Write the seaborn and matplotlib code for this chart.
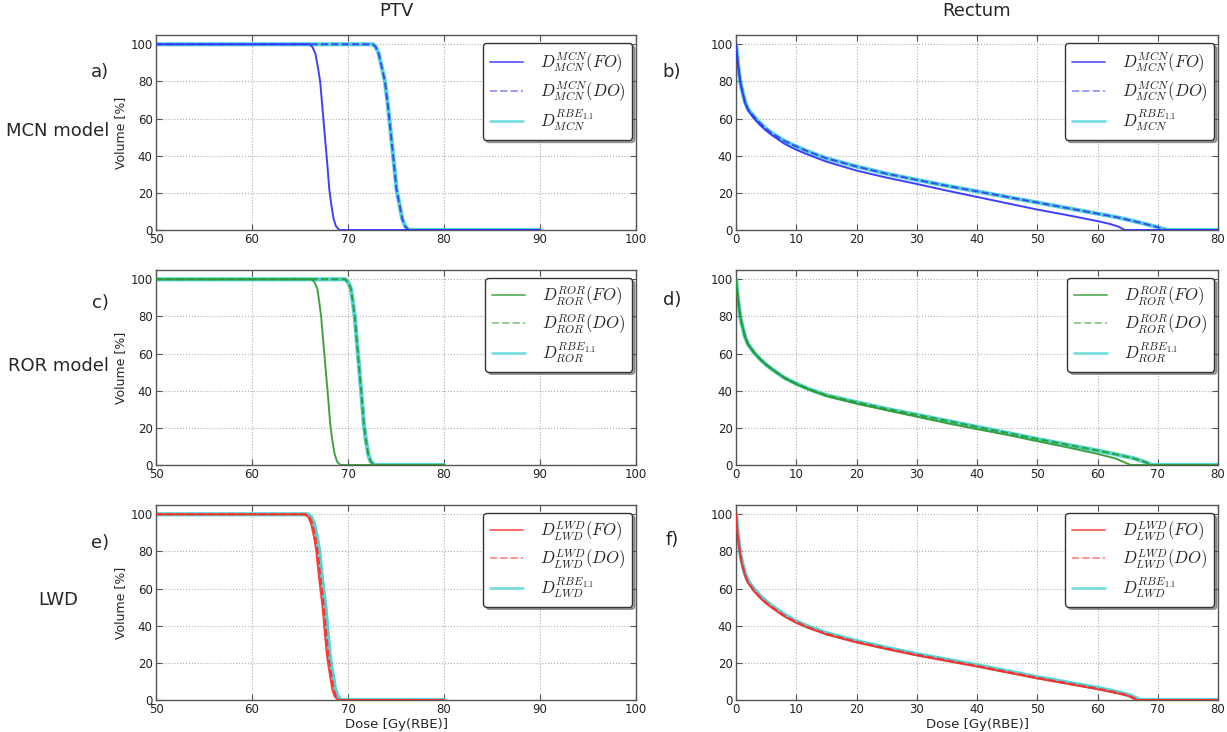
import numpy as np
import pandas as pd
import matplotlib
matplotlib.use("Agg")
import matplotlib.pyplot as plt
import seaborn as sns
from matplotlib.lines import Line2D

# ---------------- data ----------------
ptv_vol = [100, 100, 98.5, 95, 88, 80, 65, 50, 35, 22, 14, 6, 2, 0, 0]

# MCN model, PTV
ptv_mcn_fo_dose = [50, 66.0, 66.3, 66.6, 66.85, 67.1, 67.35, 67.6, 67.85, 68.05, 68.25, 68.5, 68.75, 69.1, 90]
ptv_mcn_do_dose = [50, 72.6, 72.9, 73.2, 73.5, 73.85, 74.2, 74.5, 74.8, 75.05, 75.35, 75.65, 75.95, 76.3, 90]
ptv_mcn_rbe_dose = [50, 72.6, 72.9, 73.2, 73.5, 73.85, 74.2, 74.5, 74.8, 75.05, 75.35, 75.65, 75.95, 76.3, 90]

# ROR model, PTV
ptv_ror_fo_dose = [50, 66.2, 66.5, 66.8, 67.0, 67.2, 67.45, 67.7, 67.95, 68.15, 68.35, 68.6, 68.85, 69.2, 80]
ptv_ror_do_dose = [50, 69.7, 70.0, 70.3, 70.5, 70.7, 70.95, 71.2, 71.45, 71.65, 71.85, 72.1, 72.35, 72.7, 80]
ptv_ror_rbe_dose = [50, 69.7, 70.0, 70.3, 70.5, 70.7, 70.95, 71.2, 71.45, 71.65, 71.85, 72.1, 72.35, 72.7, 80]

# LWD, PTV
ptv_lwd_fo_dose = [50, 65.5, 65.85, 66.15, 66.45, 66.7, 67.0, 67.35, 67.6, 67.85, 68.1, 68.35, 68.6, 68.95, 80]
ptv_lwd_do_dose = [50, 65.65, 66.0, 66.3, 66.6, 66.85, 67.15, 67.5, 67.75, 68.0, 68.25, 68.5, 68.75, 69.1, 80]
ptv_lwd_rbe_dose = [50, 65.8, 66.15, 66.45, 66.75, 67.0, 67.3, 67.65, 67.9, 68.15, 68.4, 68.65, 68.9, 69.25, 80]

# Rectum
rect_dose = [0, 0.3, 0.7, 1, 1.5, 2, 3, 4, 5, 6, 8, 10, 12, 15, 20, 25, 30, 35, 40, 45, 50, 55, 60]

rect_mcn_fo_dose = rect_dose + [62, 63.5, 64.5, 80]
rect_mcn_fo_vol = [100, 90, 80, 75, 68.5, 64.5, 60, 56.5, 53.5, 51, 46.5, 43.2, 40.5, 36.8, 32, 28.2, 24.8, 21.2, 17.8, 14.4, 11, 8, 4.8,
                   3.3, 1.8, 0, 0]
rect_mcn_do_dose = rect_dose + [63, 66, 68, 70, 71.5, 80]
rect_mcn_do_vol = [100, 90, 80, 75.5, 69, 65, 61, 57.5, 54.5, 52, 48, 45, 42.2, 38.6, 34.2, 30.3, 27, 23.8, 20.8, 17.8, 14.8, 11.8, 8.8,
                   7, 4.8, 3.2, 1.5, 0, 0]
rect_mcn_rbe_dose = rect_dose + [63, 66, 68, 70, 71.5, 80]
rect_mcn_rbe_vol = [100, 90, 80, 75.5, 69, 65, 61, 57.5, 54.5, 52, 48, 45, 42.2, 38.6, 34.2, 30.3, 27, 23.8, 20.8, 17.8, 14.8, 11.8, 8.8,
                    7, 4.8, 3.2, 1.5, 0, 0]

rect_ror_fo_dose = rect_dose + [63, 65.5, 80]
rect_ror_fo_vol = [100, 90, 80, 75.5, 69, 65, 60.5, 57, 54, 51.5, 47, 43.5, 40.7, 37.2, 33, 29.5, 26, 22.5, 19.3, 16.2, 12.8, 9.5, 6,
                   3.5, 0, 0]
rect_ror_do_dose = rect_dose + [63, 66, 68, 69, 80]
rect_ror_do_vol = [100, 90, 80, 75.5, 69, 65, 60.5, 57, 54, 51.5, 47, 43.8, 41, 37.5, 33.8, 30.2, 27, 23.8, 20.5, 17.3, 14, 10.9, 7.8,
                   5.8, 3.6, 1.5, 0, 0]
rect_ror_rbe_dose = rect_dose + [63, 66, 68, 69, 80]
rect_ror_rbe_vol = [100, 90, 80, 75.5, 69, 65, 60.5, 57, 54, 51.5, 47, 43.8, 41, 37.5, 33.8, 30.2, 27, 23.8, 20.5, 17.3, 14, 10.9, 7.8,
                    5.8, 3.6, 1.5, 0, 0]

rect_lwd_fo_dose = rect_dose + [63, 65, 66.5, 80]
rect_lwd_fo_vol = [100, 88, 78, 73, 67, 63, 58.5, 55, 52, 49.5, 45, 41.5, 38.8, 35.3, 31, 27.4, 24, 21, 18, 14.8, 11.6, 8.7, 5.8,
                   3.8, 2.3, 0, 0]
rect_lwd_do_dose = rect_dose + [63, 65, 66.8, 80]
rect_lwd_do_vol = [100, 88.5, 78.5, 73.5, 67.5, 63.5, 59, 55.5, 52.5, 50, 45.5, 42, 39.2, 35.7, 31.4, 27.8, 24.4, 21.4, 18.4, 15.2, 12, 9.1, 6.2,
                   4.2, 2.6, 0, 0]
rect_lwd_rbe_dose = rect_dose + [63, 65, 67.1, 80]
rect_lwd_rbe_vol = [100, 89, 79, 74, 68, 64, 59.5, 56, 53, 50.5, 46, 42.3, 39.5, 36, 31.7, 28.1, 24.7, 21.7, 18.7, 15.5, 12.3, 9.4, 6.5,
                    4.5, 2.9, 0, 0]

row_tags = ["MCN", "ROR", "LWD"]
row_names = ["MCN model", "ROR model", "LWD"]
panel_letters = [["a)", "b)"], ["c)", "d)"], ["e)", "f)"]]
col_titles = ["PTV", "Rectum"]
row_colors = ["#2a2aff", "#2a9a2a", "#ff2a2a"]
do_colors = ["#3a3aff", "#2a9a2a", "#ff2a2a"]
rbe_color = "#3fd0d0"

ptv_x_ticks = [50, 60, 70, 80, 90, 100]
rect_x_ticks = [0, 10, 20, 30, 40, 50, 60, 70, 80]
y_ticks = [0, 20, 40, 60, 80, 100]

ptv_data = [
    (ptv_mcn_fo_dose, ptv_mcn_do_dose, ptv_mcn_rbe_dose),
    (ptv_ror_fo_dose, ptv_ror_do_dose, ptv_ror_rbe_dose),
    (ptv_lwd_fo_dose, ptv_lwd_do_dose, ptv_lwd_rbe_dose),
]
rect_data = [
    ((rect_mcn_fo_dose, rect_mcn_fo_vol), (rect_mcn_do_dose, rect_mcn_do_vol), (rect_mcn_rbe_dose, rect_mcn_rbe_vol)),
    ((rect_ror_fo_dose, rect_ror_fo_vol), (rect_ror_do_dose, rect_ror_do_vol), (rect_ror_rbe_dose, rect_ror_rbe_vol)),
    ((rect_lwd_fo_dose, rect_lwd_fo_vol), (rect_lwd_do_dose, rect_lwd_do_vol), (rect_lwd_rbe_dose, rect_lwd_rbe_vol)),
]

# ---------------- style ----------------
sns.set_style("white")
plt.rcParams.update({
    "font.family": ["DejaVu Sans"],
    "mathtext.fontset": "cm",
    "xtick.direction": "in",
    "ytick.direction": "in",
    "xtick.top": True,
    "ytick.right": True,
    "xtick.bottom": True,
    "ytick.left": True,
    "axes.edgecolor": "#555555",
    "axes.linewidth": 1.0,
    "xtick.color": "#555555",
    "ytick.color": "#555555",
    "xtick.labelcolor": "#222222",
    "ytick.labelcolor": "#222222",
})

fig = plt.figure(figsize=(12.27, 7.32), dpi=100)
W, H = 1227.0, 732.0

col_left = [156, 736]
col_width = [480, 482]
row_bottom_px = [230, 465, 700]
ax_h_px = 195


def style_axes(ax, xlim, xticks):
    ax.set_xlim(*xlim)
    ax.set_ylim(0, 105)
    ax.set_xticks(xticks)
    ax.set_yticks(y_ticks)
    ax.tick_params(axis="both", labelsize=8.5, length=4, width=0.8, pad=2.5)
    ax.grid(True, color="#b0b0b0", linestyle=":", linewidth=0.8)
    for s in ax.spines.values():
        s.set_visible(True)
        s.set_color("#555555")
    ax.set_xlabel("")
    ax.set_ylabel("")


def line(ax, x, y, color, lw, ls="-", alpha=1.0, z=2):
    df = pd.DataFrame({"dose": x, "vol": y})
    sns.lineplot(data=df, x="dose", y="vol", ax=ax, color=color, linewidth=lw,
                 linestyle=ls, alpha=alpha, estimator=None, sort=False, zorder=z)


for r in range(3):
    tag = row_tags[r]
    for c in range(2):
        left = col_left[c] / W
        bottom = 1 - row_bottom_px[r] / H
        ax = fig.add_axes([left, bottom, col_width[c] / W, ax_h_px / H])
        if c == 0:
            fo_d, do_d, rbe_d = ptv_data[r]
            fo = (fo_d, ptv_vol)
            do = (do_d, ptv_vol)
            rbe = (rbe_d, ptv_vol)
        else:
            fo, do, rbe = rect_data[r]
        line(ax, rbe[0], rbe[1], rbe_color, 3.0, "-", 0.9, 2)
        line(ax, fo[0], fo[1], row_colors[r], 1.4, "-", 0.9, 3)
        line(ax, do[0], do[1], do_colors[r], 1.4, "--", 0.9, 4)
        if c == 0:
            style_axes(ax, (50, 100), ptv_x_ticks)
            ax.set_ylabel("Volume [%]", fontsize=9, labelpad=2)
        else:
            style_axes(ax, (0, 80), rect_x_ticks)
        if r == 2:
            ax.set_xlabel("Dose [Gy(RBE)]", fontsize=9.5, labelpad=1)
        if r == 0:
            ax.set_title(col_titles[c], fontsize=13, pad=14)

        handles = [
            Line2D([], [], color=row_colors[r], lw=1.4, alpha=0.7),
            Line2D([], [], color=do_colors[r], lw=1.4, ls="--", alpha=0.5),
            Line2D([], [], color=rbe_color, lw=2.0, alpha=0.7),
        ]
        labels = [
            r"$D^{%s}_{%s}(FO)$" % (tag, tag),
            r"$D^{%s}_{%s}(DO)$" % (tag, tag),
            r"$D^{RBE_{1.1}}_{%s}$" % tag,
        ]
        ax_w = col_width[c]
        anchor_x = (ax_w - 4) / ax_w
        anchor_y = (ax_h_px - 8) / ax_h_px
        leg = ax.legend(handles, labels, loc="upper right", bbox_to_anchor=(anchor_x, anchor_y),
                        borderaxespad=0, fontsize=12, frameon=True, fancybox=True, shadow=True,
                        handlelength=2.0, handletextpad=1.0, labelspacing=0.25, borderpad=0.4,
                        framealpha=1.0)
        leg.get_frame().set_edgecolor("#333333")
        leg.get_frame().set_linewidth(1.0)

        # panel letters
        lx = (100 if c == 0 else 672) / W
        ly = 1 - ([72, 303, 543][r] if c == 0 else [72, 300, 540][r]) / H
        fig.text(lx, ly, panel_letters[r][c], fontsize=13, ha="center", va="center")

# row names
for r, (name, ypx, xpx) in enumerate(zip(row_names, [131, 366, 600], [58, 58, 58])):
    fig.text(xpx / W, 1 - ypx / H, name, fontsize=13, ha="center", va="center")

fig.savefig("out.png", dpi=100)
